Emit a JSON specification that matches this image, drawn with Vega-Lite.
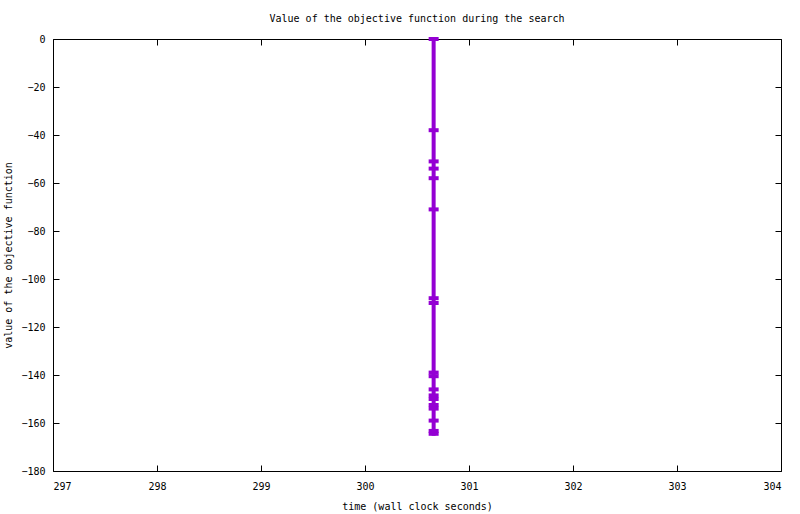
{
  "$schema": "https://vega.github.io/schema/vega-lite/v6.json",
  "width": 728,
  "height": 432,
  "autosize": {"type": "none"},
  "padding": {"left": 53, "top": 39, "right": 19, "bottom": 43},
  "background": "white",
  "config": {
    "view": {"stroke": "black", "strokeWidth": 1},
    "font": "DejaVu Sans Mono",
    "axis": {
      "domain": false,
      "grid": false,
      "tickColor": "black",
      "tickSize": -6,
      "tickWidth": 1,
      "labelFont": "DejaVu Sans Mono",
      "labelFontSize": 10,
      "labelColor": "black",
      "titleFont": "DejaVu Sans Mono",
      "titleFontSize": 10,
      "titleFontWeight": "normal",
      "titleColor": "black"
    },
    "title": {"font": "DejaVu Sans Mono", "fontSize": 10, "fontWeight": "normal", "color": "black"}
  },
  "title": {"text": "Value of the objective function during the search", "anchor": "middle", "offset": 7},
  "data": {
    "values": [
      {"i": 0, "t": 300.66, "v": 0},
      {"i": 1, "t": 300.66, "v": -38},
      {"i": 2, "t": 300.66, "v": -51},
      {"i": 3, "t": 300.66, "v": -54},
      {"i": 4, "t": 300.66, "v": -58},
      {"i": 5, "t": 300.66, "v": -71},
      {"i": 6, "t": 300.66, "v": -108},
      {"i": 7, "t": 300.66, "v": -110},
      {"i": 8, "t": 300.66, "v": -139},
      {"i": 9, "t": 300.66, "v": -140.5},
      {"i": 10, "t": 300.66, "v": -146},
      {"i": 11, "t": 300.66, "v": -148.5},
      {"i": 12, "t": 300.66, "v": -150},
      {"i": 13, "t": 300.66, "v": -152.5},
      {"i": 14, "t": 300.66, "v": -154},
      {"i": 15, "t": 300.66, "v": -159},
      {"i": 16, "t": 300.66, "v": -163.3},
      {"i": 17, "t": 300.66, "v": -164.5}
    ]
  },
  "layer": [
    {
      "mark": {"type": "line", "color": "#9400D3", "strokeWidth": 4, "strokeCap": "square"},
      "encoding": {
        "x": {"field": "t", "type": "quantitative", "scale": {"domain": [297, 304], "nice": false, "zero": false},
              "axis": {"title": "time (wall clock seconds)", "orient": "bottom", "values": [297, 298, 299, 300, 301, 302, 303, 304], "labelPadding": 16, "titlePadding": 10, "format": "d"}},
        "y": {"field": "v", "type": "quantitative", "scale": {"domain": [-180, 0], "nice": false, "zero": false},
              "axis": {"title": "value of the objective function", "orient": "left", "values": [0, -20, -40, -60, -80, -100, -120, -140, -160, -180], "labelPadding": 14, "titlePadding": 7, "format": "d"}},
        "order": {"field": "i", "type": "quantitative"}
      }
    },
    {
      "mark": {"type": "tick", "orient": "horizontal", "size": 10, "thickness": 4, "color": "#9400D3", "opacity": 1},
      "encoding": {
        "x": {"field": "t", "type": "quantitative", "scale": {"domain": [297, 304], "nice": false, "zero": false},
              "axis": {"title": null, "orient": "top", "labels": false, "values": [297, 298, 299, 300, 301, 302, 303, 304]}},
        "y": {"field": "v", "type": "quantitative", "scale": {"domain": [-180, 0], "nice": false, "zero": false},
              "axis": {"title": null, "orient": "right", "labels": false, "values": [0, -20, -40, -60, -80, -100, -120, -140, -160, -180]}}
      }
    }
  ],
  "resolve": {"scale": {"x": "independent", "y": "independent"}}
}
